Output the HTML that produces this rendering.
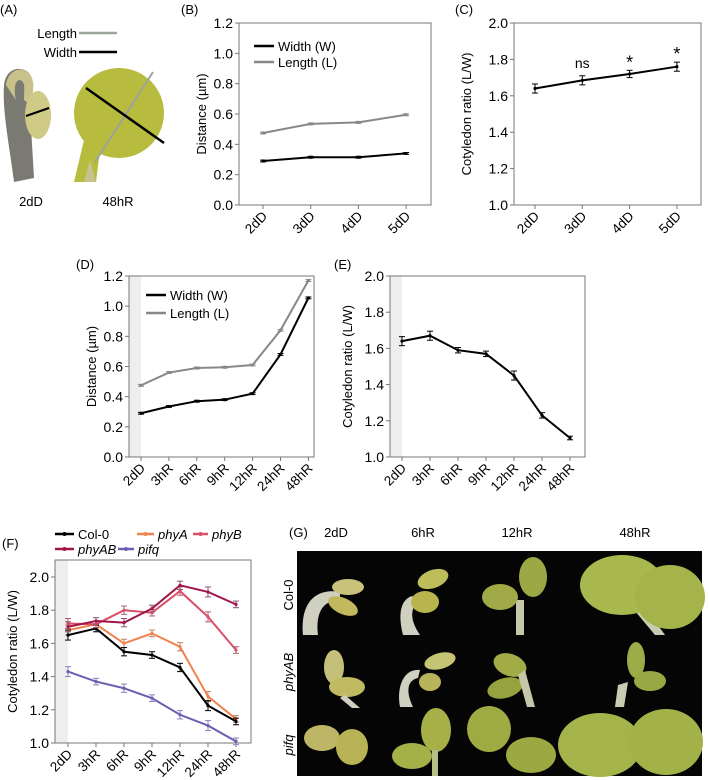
<!DOCTYPE html>
<html><head><meta charset="utf-8">
<style>
body{margin:0;background:#fff;}
svg{display:block;font-family:"Liberation Sans",Arial,sans-serif;}
</style></head>
<body>
<svg id="fig" width="709" height="780" viewBox="0 0 709 780" xmlns="http://www.w3.org/2000/svg">
<g>
<text x="0" y="14" font-size="13">(A)</text>
<text x="77" y="38" font-size="13" text-anchor="end">Length</text>
<line x1="79" y1="33" x2="117" y2="33" stroke="#9aa49a" stroke-width="2.5"/>
<text x="77" y="57" font-size="13" text-anchor="end">Width</text>
<line x1="79" y1="52" x2="117" y2="52" stroke="#000" stroke-width="2.5"/>
<path d="M14,182 C10,150 2,110 4,85 C6,68 20,66 28,72 C36,80 32,100 30,110 L34,178 Z" fill="#7a7a72"/>
<path d="M6,85 C8,68 26,64 32,78 C36,90 30,98 30,105 L24,100 C24,90 26,82 20,80 C14,80 14,92 16,100 Z" fill="#c8c28a"/>
<ellipse cx="38" cy="115" rx="13" ry="24" fill="#cfca86"/>
<line x1="26" y1="116" x2="49" y2="108" stroke="#000" stroke-width="2"/>
<circle cx="119" cy="113" r="45" fill="#b7bc3e"/>
<path d="M84,140 L74,182 L96,182 L100,150 Z" fill="#b7bc3e"/>
<path d="M90,160 L84,182 L96,182 Z" fill="#c6c28e"/>
<line x1="95" y1="162" x2="153" y2="72" stroke="#9aa49a" stroke-width="2"/>
<line x1="86" y1="88" x2="164" y2="143" stroke="#000" stroke-width="2.5"/>
<text x="31" y="206" font-size="13" text-anchor="middle">2dD</text>
<text x="118" y="206" font-size="13" text-anchor="middle">48hR</text>
</g>
<g id="charts"></g>
<g>
<text x="289" y="537" font-size="13">(G)</text>
<text x="336" y="537" font-size="13" text-anchor="middle">2dD</text>
<text x="423" y="537" font-size="13" text-anchor="middle">6hR</text>
<text x="517" y="537" font-size="13" text-anchor="middle">12hR</text>
<text x="635" y="537" font-size="13" text-anchor="middle">48hR</text>
<text transform="translate(293,595) rotate(-90)" font-size="13" text-anchor="middle">Col-0</text>
<text transform="translate(293,672) rotate(-90)" font-size="13" text-anchor="middle" font-style="italic">phyAB</text>
<text transform="translate(293,745) rotate(-90)" font-size="13" text-anchor="middle" font-style="italic">pifq</text>
<rect x="297" y="551" width="405" height="225" fill="#050505"/>
<path d="M303,635 C300,600 318,588 340,592 L340,600 C325,600 315,610 318,635 Z" fill="#cfd0c0"/>
<ellipse cx="348" cy="587" rx="16" ry="8" fill="#c9c27a"/>
<ellipse cx="343" cy="606" rx="16" ry="8" transform="rotate(25 343 606)" fill="#c2b85e"/>
<path d="M403,635 C398,615 400,600 412,596 L418,600 C410,610 410,620 420,635 Z" fill="#cfd0c0"/>
<ellipse cx="433" cy="579" rx="16" ry="9" transform="rotate(-20 433 579)" fill="#bdbd5a"/>
<ellipse cx="425" cy="602" rx="14" ry="11" fill="#b8b44e"/>
<rect x="516" y="600" width="8" height="35" fill="#c4c8a8"/>
<ellipse cx="533" cy="577" rx="14" ry="20" fill="#9ca844"/>
<ellipse cx="500" cy="597" rx="18" ry="13" fill="#a0aa46"/>
<path d="M630,605 L655,635 L665,635 L640,600 Z" fill="#c8ccb0"/>
<ellipse cx="622" cy="585" rx="42" ry="30" fill="#a8b84e"/>
<ellipse cx="670" cy="597" rx="35" ry="32" fill="#a4b44a"/>
<ellipse cx="334" cy="667" rx="10" ry="17" fill="#c4c07a"/>
<ellipse cx="347" cy="687" rx="18" ry="10" fill="#c0ba62"/>
<path d="M345,695 L360,708 L352,708 L340,698 Z" fill="#cfd0c0"/>
<path d="M400,707 C396,685 405,668 420,670 L418,678 C408,680 405,690 413,707 Z" fill="#cfd0c0"/>
<ellipse cx="440" cy="661" rx="16" ry="8" transform="rotate(-15 440 661)" fill="#c4c474"/>
<ellipse cx="430" cy="682" rx="11" ry="9" fill="#b8b45c"/>
<ellipse cx="510" cy="665" rx="17" ry="11" transform="rotate(20 510 665)" fill="#a2ac46"/>
<ellipse cx="505" cy="688" rx="18" ry="10" transform="rotate(-15 505 688)" fill="#96a23e"/>
<path d="M525,670 L535,707 L527,707 L518,675 Z" fill="#c4c8a8"/>
<ellipse cx="636" cy="660" rx="9" ry="18" fill="#9cac46"/>
<ellipse cx="650" cy="681" rx="16" ry="10" fill="#98a842"/>
<path d="M615,707 L618,685 L628,682 L624,707 Z" fill="#c8ccb0"/>
<ellipse cx="322" cy="738" rx="18" ry="13" fill="#bcb666"/>
<ellipse cx="352" cy="747" rx="16" ry="18" fill="#b8b456"/>
<ellipse cx="436" cy="730" rx="15" ry="22" fill="#a6b046"/>
<ellipse cx="412" cy="756" rx="20" ry="13" fill="#a4b048"/>
<rect x="432" y="750" width="6" height="26" fill="#b8c088"/>
<ellipse cx="489" cy="729" rx="22" ry="23" fill="#9eaa42"/>
<ellipse cx="531" cy="755" rx="25" ry="18" fill="#9ca842"/>
<ellipse cx="600" cy="745" rx="42" ry="32" fill="#a4b44a"/>
<ellipse cx="666" cy="742" rx="37" ry="33" fill="#a2b248"/>
</g>
</svg>
<script>
// ===== Panel B data =====
const catsB = ["2dD","3dD","4dD","5dD"];
const widthB = [0.29,0.315,0.315,0.34];
const lengthB = [0.475,0.535,0.545,0.595];
const yTicksB = [0.0,0.2,0.4,0.6,0.8,1.0,1.2];
// ===== Panel C data =====
const ratioC = [1.64,1.685,1.72,1.76];
const errC = [0.025,0.025,0.02,0.025];
const sigC = ["","ns","*","*"];
const yTicksC = [1.0,1.2,1.4,1.6,1.8,2.0];
// ===== Panel D data =====
const catsD = ["2dD","3hR","6hR","9hR","12hR","24hR","48hR"];
const widthD = [0.29,0.335,0.37,0.38,0.42,0.68,1.055];
const lengthD = [0.475,0.56,0.59,0.595,0.61,0.84,1.17];
// ===== Panel E data =====
const ratioE = [1.64,1.67,1.59,1.57,1.45,1.23,1.105];
const errE = [0.025,0.025,0.015,0.015,0.025,0.015,0.01];
// ===== Panel F data =====
const col0F = [1.65,1.69,1.55,1.53,1.455,1.225,1.13];
const phyAF = [1.68,1.715,1.60,1.66,1.58,1.28,1.145];
const phyBF = [1.72,1.715,1.80,1.785,1.915,1.76,1.56];
const phyABF = [1.70,1.735,1.725,1.81,1.95,1.91,1.835];
const pifqF = [1.43,1.37,1.33,1.27,1.17,1.105,1.01];
const errF = [0.03,0.02,0.025,0.02,0.025,0.03,0.02];
const yTicksF = [1.0,1.2,1.4,1.6,1.8,2.0];

const NS="http://www.w3.org/2000/svg";
const root=document.getElementById('charts');
function mk(tag,attrs,parent){const e=document.createElementNS(NS,tag);for(const k in attrs)e.setAttribute(k,attrs[k]);(parent||root).appendChild(e);return e;}

function chart(o){
  const g=mk('g',{});
  
  
  const xs=i=>o.x0+o.dx*i;
  const ys=v=>o.yb-(v-o.vmin)/(o.vmax-o.vmin)*(o.yb-o.yt);
  if(o.band){const r=mk('rect',{x:o.left,y:o.top,width:xs(0)-o.left,height:o.bottom-o.top,fill:'#eeeeee'},g);
    
    }
  const box=mk('rect',{x:o.left,y:o.top,width:o.right-o.left,height:o.bottom-o.top,fill:'none',stroke:'#777','stroke-width':1},g);
  
  
  o.ticks.forEach(t=>{
    const y=ys(t);
    mk('line',{x1:o.left-4,x2:o.left,y1:y,y2:y,stroke:'#777'},g);
    const tx=mk('text',{x:o.left-6,y:y+5,'font-size':14,'text-anchor':'end'},g);
    tx.textContent=t.toFixed(1);
    
    
  });
  o.cats.forEach((c,i)=>{
    const x=xs(i);
    mk('line',{x1:x,x2:x,y1:o.bottom,y2:o.bottom+4,stroke:'#777'},g);
    const tx=mk('text',{transform:`translate(${x+5},${o.bottom+12}) rotate(-45)`,'font-size':13.5,'text-anchor':'end'},g);
    tx.textContent=c;
    
    
  });
  const yt=mk('text',{transform:`translate(${o.ytx},${(o.top+o.bottom)/2}) rotate(-90)`,'font-size':13,'text-anchor':'middle'},g);
  yt.textContent=o.ytitle;
  
  
  const pl=mk('text',{x:o.lx,y:o.ly,'font-size':13},g);
  pl.textContent=o.label;
  
  
  o.series.forEach(s=>{
    const pts=s.vals.map((v,i)=>xs(i)+','+ys(v)).join(' ');
    const ln=mk('polyline',{points:pts,fill:'none',stroke:s.color,'stroke-width':s.w||2},g);
    
    
    s.vals.forEach((v,i)=>{
      const e=s.err?s.err[i]:0.006;
      const x=xs(i);
      mk('line',{x1:x,x2:x,y1:ys(v+e),y2:ys(v-e),stroke:s.ecolor||s.color,'stroke-width':1},g);
      mk('line',{x1:x-3,x2:x+3,y1:ys(v+e),y2:ys(v+e),stroke:s.ecolor||s.color,'stroke-width':1},g);
      mk('line',{x1:x-3,x2:x+3,y1:ys(v-e),y2:ys(v-e),stroke:s.ecolor||s.color,'stroke-width':1},g);
      const p=mk('circle',{cx:x,cy:ys(v),r:1.6,fill:s.color},g);
      
      
    });
  });
  if(o.sig){o.sig.forEach((t,i)=>{if(!t)return;const v=o.series[0].vals[i]+o.series[0].err[i];
    const tx=mk('text',{x:xs(i),y:ys(v)-(t==='*'?2:8),'font-size':t==='*'?18:14,'text-anchor':'middle'},g);
    tx.textContent=t;
    
    });}
  (o.legend||[]).forEach(L=>{
    mk('line',{x1:L.x,x2:L.x+L.len,y1:L.y,y2:L.y,stroke:L.color,'stroke-width':2.5},g);
    if(L.dot)mk('circle',{cx:L.x+L.len/2,cy:L.y,r:2,fill:L.color},g);
    const tx=mk('text',{x:L.x+L.len+4,y:L.y+5,'font-size':L.fs||13,'font-style':L.it?'italic':'normal'},g);
    tx.textContent=L.text;
    
    
  });
}

chart({name:'panel-b-distance-chart',left:239,right:431,top:23,bottom:205,yt:23,yb:205,vmin:0,vmax:1.2,x0:263,dx:47.7,
  ticks:yTicksB,cats:catsB,ytitle:'Distance (µm)',ytx:206,label:'(B)',lx:181,ly:14,
  series:[{name:'width',vals:widthB,color:'#000'},{name:'length',vals:lengthB,color:'#888'}],
  legend:[{x:254,y:46,len:20,color:'#000',text:'Width (W)'},{x:254,y:62,len:20,color:'#888',text:'Length (L)'}]});
chart({name:'panel-c-ratio-chart',left:514,right:701,top:23,bottom:205,yt:23,yb:205,vmin:1,vmax:2,x0:535,dx:47.3,
  ticks:yTicksC,cats:catsB,ytitle:'Cotyledon ratio (L/W)',ytx:471,label:'(C)',lx:455,ly:14,
  series:[{name:'ratio',vals:ratioC,err:errC,color:'#000'}],sig:sigC});
chart({name:'panel-d-distance-chart',left:129,right:314,top:276,bottom:457,yt:276,yb:457,vmin:0,vmax:1.2,x0:141,dx:27.9,band:true,
  ticks:yTicksB,cats:catsD,ytitle:'Distance (µm)',ytx:96,label:'(D)',lx:76,ly:269,
  series:[{name:'width',vals:widthD,color:'#000'},{name:'length',vals:lengthD,color:'#888'}],
  legend:[{x:146,y:295,len:20,color:'#000',text:'Width (W)'},{x:146,y:313,len:20,color:'#888',text:'Length (L)'}]});
chart({name:'panel-e-ratio-chart',left:390,right:585,top:276,bottom:457,yt:276,yb:457,vmin:1,vmax:2,x0:402,dx:28,band:true,
  ticks:yTicksC,cats:catsD,ytitle:'Cotyledon ratio (L/W)',ytx:352,label:'(E)',lx:334,ly:269,
  series:[{name:'ratio',vals:ratioE,err:errE,color:'#000'}]});
chart({name:'panel-f-mutant-ratio-chart',left:55,right:251,top:560,bottom:743,yt:577,yb:743,vmin:1,vmax:2,x0:68,dx:28,band:true,
  ticks:yTicksF,cats:catsD,ytitle:'Cotyledon ratio (L/W)',ytx:17,label:'(F)',lx:2,ly:548,
  series:[
    {name:'pifq',vals:pifqF,err:errF,color:'#6a5fb0',ecolor:'#8a80c0'},
    {name:'phyA',vals:phyAF,err:errF,color:'#f0824e',ecolor:'#c88060'},
    {name:'col-0',vals:col0F,err:errF,color:'#000'},
    {name:'phyB',vals:phyBF,err:errF,color:'#d9506a',ecolor:'#b06070'},
    {name:'phyAB',vals:phyABF,err:errF,color:'#a0154a',ecolor:'#905070'}],
  legend:[{x:55,y:534,len:19,color:'#000',text:'Col-0',dot:1},
    {x:137,y:534,len:17,color:'#f0824e',text:'phyA',it:1,dot:1},
    {x:193,y:534,len:15,color:'#d9506a',text:'phyB',it:1,dot:1},
    {x:55,y:549,len:19,color:'#a0154a',text:'phyAB',it:1,dot:1},
    {x:118,y:549,len:16,color:'#6a5fb0',text:'pifq',it:1,dot:1}]});
</script>
</body></html>
